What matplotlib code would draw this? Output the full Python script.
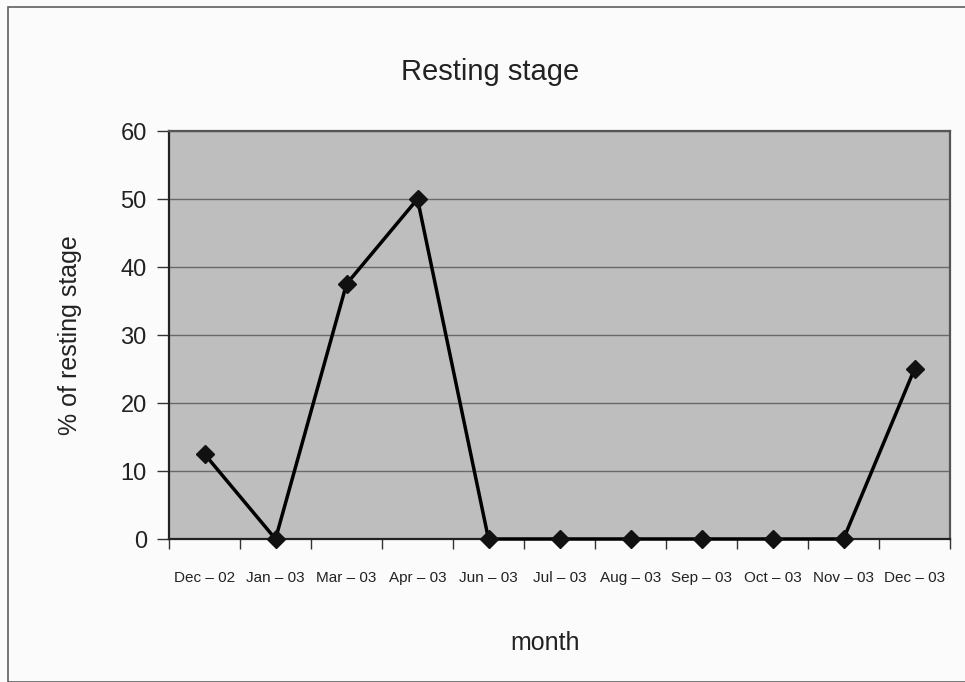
import matplotlib
matplotlib.use("Agg")
import matplotlib.pyplot as plt
from matplotlib.patches import Rectangle

plt.rcParams['font.family'] = ['Liberation Sans', 'DejaVu Sans']

months = ["Dec – 02", "Jan – 03", "Mar – 03", "Apr – 03", "Jun – 03", "Jul – 03",
          "Aug – 03", "Sep – 03", "Oct – 03", "Nov – 03", "Dec – 03"]
values = [12.5, 0, 37.5, 50, 0, 0, 0, 0, 0, 0, 25]
yticks = [0, 10, 20, 30, 40, 50, 60]

fig = plt.figure(figsize=(9.65, 6.82), dpi=100)
fig.patch.set_facecolor('#fbfbfb')
fig.patches.append(Rectangle((8/965, 0), 1.0, 1 - 7/682, transform=fig.transFigure,
                             fill=False, edgecolor='#606060', linewidth=1.2))

ax = fig.add_axes([169/965, 1 - 539/682, (950-169)/965, (539-131)/682])
ax.set_facecolor('#bebebe')
x = list(range(len(months)))
ax.plot(x, values, color='black', linewidth=2.5, marker='D', markersize=9.5,
        markerfacecolor='#111111', markeredgecolor='#111111', zorder=3, clip_on=False)
ax.set_xlim(-0.5, len(months) - 0.5)
ax.set_ylim(0, 60)
ax.set_yticks(yticks)
ax.set_yticklabels([str(v) for v in yticks], fontsize=17, color='#222222')
ax.tick_params(axis='y', direction='out', length=9, width=1, color='#333333', pad=7)
ax.set_xticks(x)
ax.set_xticklabels(months, fontsize=11, color='#222222')
ax.tick_params(axis='x', which='major', length=0, pad=23)
ax.set_xticks([i - 0.5 for i in range(len(months) + 1)], minor=True)
ax.tick_params(axis='x', which='minor', direction='out', length=7, width=1, color='#333333')
ax.yaxis.grid(True, color='#6a6a6a', linewidth=1)
ax.set_axisbelow(True)
for side in ['left', 'bottom']:
    ax.spines[side].set_color('#222222')
    ax.spines[side].set_linewidth(1.6)
for side in ['top', 'right']:
    ax.spines[side].set_color('#555555')
    ax.spines[side].set_linewidth(1.6)

fig.text(490/965, 1 - 72/682, "Resting stage", ha='center', va='center', fontsize=21, color='#222222')
fig.text(545/965, 1 - 643/682, "month", ha='center', va='center', fontsize=18, color='#222222')
fig.text(70/965, 1 - 335/682, "% of resting stage", ha='center', va='center', rotation=90,
         fontsize=18, color='#222222')

fig.savefig("out.png", dpi=100, facecolor=fig.get_facecolor())
